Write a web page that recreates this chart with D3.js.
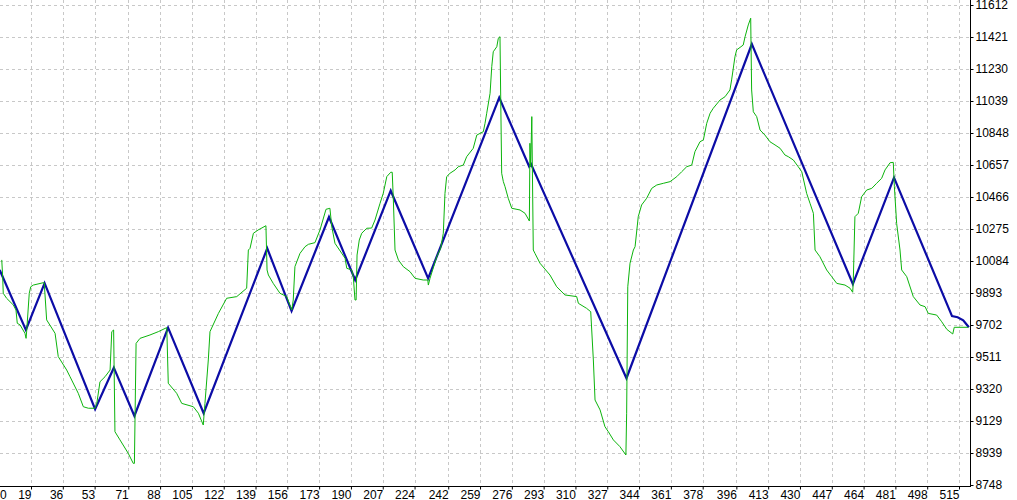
<!DOCTYPE html>
<html><head><meta charset="utf-8">
<script src="https://cdn.jsdelivr.net/npm/d3@7"></script>
<style>
html,body{margin:0;padding:0;background:#fff;overflow:hidden}
svg{display:block}
text{font-family:"Liberation Sans",Arial,sans-serif;font-size:12px;fill:#000}
</style></head><body>
<svg id="chart" width="1017" height="500"></svg>
<script>
// ---- data ----
const xTickLabels = [0,19,36,53,71,88,105,122,139,156,173,190,207,224,242,259,276,293,310,327,344,361,378,396,413,430,447,464,481,498,515];
const priceTicks = [8748,8939,9129,9320,9511,9702,9893,10084,10275,10466,10657,10848,11039,11230,11421,11612];

const zigzagBars   = [2,16,26,53,63,74,92,111,145,158,178,192,211,231,269,285,286,337,404,458,480,511,514,517,520];
const zigzagPrices = [10034,9676,9955,9203,9451,9163,9690,9179,10163,9789,10350,9974,10507,9984,11062,10651,10666,9388,11382,9950,10585,9759,9752,9734,9692];

const priceBars = [3.1,3.6,3.9,5.7,9.3,10.7,11.4,12.9,15.5,16.1,16.4,17.8,18.6,20.0,25.3,25.8,
27.1,31.6,33.3,37.8,39.6,44.0,46.7,49.4,52.9,53.9,
55.6,58.3,61.0,61.9,62.9,63.6,66.3,70.7,73.4,74.0,74.9,77.0,82.3,86.8,91.3,
92.1,96.6,99.3,105.5,108.2,110.8,111.7,113.5,114.4,118.9,123.3,128.7,134.0,134.9,135.8,137.6,140.2,144.3,
144.9,145.6,148.2,151.8,155.4,158.1,158.9,159.8,162.5,165.2,167.0,170.5,173.2,176.4,178.5,
179.5,181.2,186.6,187.5,190.1,191.0,191.9,192.5,193.0,194.2,195.5,198.2,200.8,202.6,205.3,207.0,208.9,211.0,211.8,
212.4,213.3,215.1,217.7,221.3,224.0,228.4,230.8,231.1,232.0,235.6,237.7,239.1,240.0,240.9,242.7,245.4,247.1,249.8,251.6,255.1,257.0,260.5,261.4,262.3,264.1,265.0,265.8,267.7,268.5,269.4,
269.8,270.3,271.2,272.1,273.8,275.7,280.1,282.8,285.1,285.4,285.8,286.4,287.2,288.1,290.8,296.1,299.7,304.1,310.4,311.3,315.7,317.9,319.3,320.2,322.9,325.5,327.3,330.0,333.5,336.7,
337.1,337.7,338.9,340.7,341.6,343.3,345.1,347.8,350.5,353.2,356.7,360.3,363.9,366.5,369.2,371.9,373.6,376.3,378.1,379.9,381.7,383.4,387.0,389.7,392.3,393.2,395.0,395.9,399.4,400.4,402.1,403.4,
403.9,404.8,406.6,408.4,411.0,413.7,416.4,419.1,421.7,423.5,426.2,428.8,430.7,433.3,435.1,436.9,437.8,440.4,444.0,446.7,449.4,453.8,456.5,457.9,
458.2,459.1,460.9,462.7,465.4,468.1,470.7,473.4,475.2,477.9,479.6,
480.2,481.4,483.2,484.1,486.8,490.3,493.9,496.6,498.3,502.8,505.5,508.2,511.4,512.2,519.7];
const pricePrices = [10094,9994,9895,9865,9825,9795,9716,9706,9656,9626,9666,9895,9934,9944,9958,9958,
9736,9656,9517,9437,9397,9298,9218,9209,9209,9238,
9367,9397,9437,9666,9676,9069,9020,8940,8880,8880,9596,9626,9646,9666,9690,
9358,9298,9238,9218,9179,9109,9238,9497,9666,9775,9865,9875,9925,10153,10163,10253,10273,10298,
10034,10004,9954,9895,9875,9795,9855,10054,10133,10173,10187,10197,10273,10396,10402,
10292,10193,10104,10044,10034,9994,9855,9855,10123,10213,10253,10283,10284,10332,10432,10491,10591,10617,10617,
10452,10153,10094,10054,10024,9984,9974,9974,9944,9984,10113,10163,10253,10491,10591,10611,10631,10650,10660,10710,10760,10839,10859,10909,10969,11088,11247,11336,11366,11416,11426,
11048,10611,10561,10531,10462,10402,10392,10372,10326,10790,10650,10949,10153,10133,10074,10004,9934,9885,9875,9835,9805,9785,9497,9258,9199,9099,9069,9020,8980,8930,
9179,9934,10074,10153,10173,10352,10422,10462,10521,10541,10551,10561,10591,10620,10650,10660,10740,10799,10810,10909,10969,10999,11048,11068,11108,11168,11307,11347,11376,11426,11496,11536,
11108,10978,10949,10869,10839,10799,10780,10760,10720,10710,10690,10650,10620,10491,10432,10372,10153,10113,10034,9994,9954,9944,9925,9901,
9954,10352,10372,10471,10511,10521,10551,10581,10631,10674,10676,
10531,10312,10153,10034,9994,9875,9825,9815,9775,9765,9725,9680,9652,9692,9692];

// ---- layout ----
const W = 1017, H = 500;
const plotRight = 970, plotBottom = 486;
const x = d3.scaleLinear().domain([19, 515]).range([31.5, 959.5]);
const y = d3.scaleLinear().domain([8748, 11612]).range([485.5, 5.5]);
const snap = v => Math.round(v - 0.5) + 0.5;

const svg = d3.select('#chart');
svg.append('rect').attr('width', W).attr('height', H).attr('fill', '#fff');

svg.append('defs').append('clipPath').attr('id', 'plotClip')
  .append('rect').attr('x', 0).attr('y', 0).attr('width', plotRight).attr('height', plotBottom);

// grid
const gv = svg.append('g').attr('stroke', '#c8c8c8').attr('stroke-dasharray', '3,3').attr('shape-rendering', 'crispEdges');
gv.selectAll('line').data(xTickLabels.filter(d => d > 0)).join('line')
  .attr('x1', d => snap(x(d))).attr('x2', d => snap(x(d)))
  .attr('y1', 0).attr('y2', plotBottom);
const gh = svg.append('g').attr('stroke', '#c8c8c8').attr('stroke-dasharray', '3,3').attr('shape-rendering', 'crispEdges');
gh.selectAll('line').data(priceTicks.filter(d => d > priceTicks[0])).join('line')
  .attr('y1', d => snap(y(d))).attr('y2', d => snap(y(d)))
  .attr('x1', 0).attr('x2', plotRight);

// series
const line = d3.line().x(d => x(d[0])).y(d => y(d[1]));
const plot = svg.append('g').attr('clip-path', 'url(#plotClip)');
plot.append('path').datum(d3.zip(zigzagBars, zigzagPrices))
  .attr('d', line).attr('fill', 'none').attr('stroke', '#0c0ca6').attr('stroke-width', 2.2)
  .attr('stroke-linejoin', 'miter');
plot.append('path').datum(d3.zip(priceBars, pricePrices))
  .attr('d', line).attr('fill', 'none').attr('stroke', '#0cb40c').attr('stroke-width', 1);

// right axis
const yAxis = d3.axisRight(y).tickValues(priceTicks).tickFormat(d => String(d))
  .tickSize(3).tickPadding(2).offset(0);
const ya = svg.append('g').attr('transform', `translate(${plotRight + 0.5},0)`).call(yAxis);
ya.select('.domain').remove();
ya.selectAll('.tick line').attr('stroke', '#000').attr('transform', function(d){ return `translate(0,${snap(y(d)) - y(d)})`; });
ya.selectAll('.tick text').attr('fill', '#000').style('font-family', '"Liberation Sans",Arial,sans-serif').style('font-size', '12px');

// bottom axis
const xAxis = d3.axisBottom(x).tickValues(xTickLabels.filter(d => d > 0)).tickFormat(d => String(d))
  .tickSize(3).tickPadding(1).offset(0);
const xa = svg.append('g').attr('transform', `translate(0,${plotBottom + 0.5})`).call(xAxis);
xa.select('.domain').remove();
xa.selectAll('.tick line').attr('stroke', '#000');
xa.selectAll('.tick text').attr('text-anchor', 'end').attr('x', 0).attr('fill', '#000')
  .style('font-family', '"Liberation Sans",Arial,sans-serif').style('font-size', '12px');
xa.append('text').attr('x', 0).attr('y', 4).attr('dy', '0.71em').attr('text-anchor', 'start')
  .attr('fill', '#000').style('font-family', '"Liberation Sans",Arial,sans-serif').style('font-size', '12px')
  .text(String(xTickLabels[0]));

// axis lines
svg.append('line').attr('x1', plotRight + 0.5).attr('x2', plotRight + 0.5).attr('y1', 0).attr('y2', plotBottom + 1)
  .attr('stroke', '#000').attr('shape-rendering', 'crispEdges');
svg.append('line').attr('x1', 0).attr('x2', plotRight + 1).attr('y1', plotBottom + 0.5).attr('y2', plotBottom + 0.5)
  .attr('stroke', '#000').attr('shape-rendering', 'crispEdges');
</script>
</body></html>
